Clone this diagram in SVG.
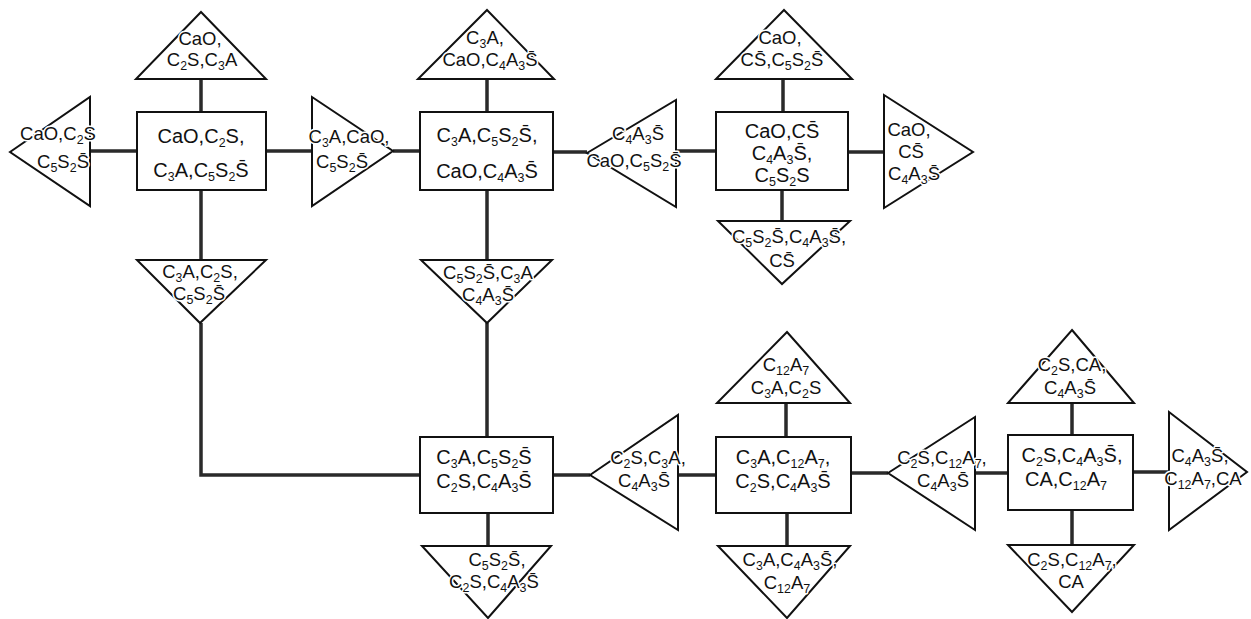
<svg xmlns="http://www.w3.org/2000/svg" width="1251" height="619" viewBox="0 0 1251 619">
<style>
.n{fill:#fff;stroke:#111;stroke-width:2;stroke-linejoin:miter}
.c{fill:none;stroke:#2a2a2a;stroke-width:3.5}
.t{font-family:"Liberation Sans","DejaVu Sans",sans-serif;font-size:20px;text-anchor:middle;fill:#111;stroke:#fff;stroke-width:3;paint-order:stroke;stroke-linejoin:round}
.tr{font-size:18.5px}
.s{font-size:12.5px;baseline-shift:-4px}
</style>
<rect width="1251" height="619" fill="#fff"/>
<g id="connectors">
<path class="c" d="M90 151H137M266 151H312M393 151H420M553 152H587M676 151H716M848 152H884M201 79V112M487 79V112M783 79V112M201 190V260M201 323V475H420M487 190V260M487 323V437M782 190V221M488 513V546M553 475H590M678 475H716M786 403V437M787 513V546M851 473H888M975 473H1008M1072 403V435M1072 510V545M1133 472H1169"/>
</g>
<g id="box1"><rect class="n" x="137" y="112" width="129" height="78"/>
<text class="t" x="201" y="143">CaO,C<tspan class="s">2</tspan>S,</text>
<text class="t" x="201" y="177">C<tspan class="s">3</tspan>A,C<tspan class="s">5</tspan>S<tspan class="s">2</tspan>S&#772;</text></g>
<g id="tri-top1"><polygon class="n" points="201,12 266,79 136,79"/>
<text class="t tr" x="200" y="45">CaO,</text>
<text class="t tr" x="202" y="66">C<tspan class="s">2</tspan>S,C<tspan class="s">3</tspan>A</text></g>
<g id="tri-left1"><polygon class="n" points="10,152 90,97 90,206"/>
<text class="t tr" x="58" y="140">CaO,C<tspan class="s">2</tspan>S</text>
<text class="t tr" x="63" y="168">C<tspan class="s">5</tspan>S<tspan class="s">2</tspan>S&#772;</text></g>
<g id="tri-right1"><polygon class="n" points="312,97 393,151 312,206"/>
<text class="t tr" x="349" y="143">C<tspan class="s">3</tspan>A,CaO,</text>
<text class="t tr" x="342" y="168">C<tspan class="s">5</tspan>S<tspan class="s">2</tspan>S&#772;</text></g>
<g id="tri-down1"><polygon class="n" points="137,260 266,260 200,323"/>
<text class="t tr" x="200" y="278">C<tspan class="s">3</tspan>A,C<tspan class="s">2</tspan>S,</text>
<text class="t tr" x="199" y="300">C<tspan class="s">5</tspan>S<tspan class="s">2</tspan>S&#772;</text></g>
<g id="box2"><rect class="n" x="420" y="112" width="133" height="78"/>
<text class="t" x="487" y="142">C<tspan class="s">3</tspan>A,C<tspan class="s">5</tspan>S<tspan class="s">2</tspan>S&#772;,</text>
<text class="t" x="487" y="178">CaO,C<tspan class="s">4</tspan>A<tspan class="s">3</tspan>S&#772;</text></g>
<g id="tri-top2"><polygon class="n" points="487,10 554,79 418,79"/>
<text class="t tr" x="485" y="44">C<tspan class="s">3</tspan>A,</text>
<text class="t tr" x="490" y="66">CaO,C<tspan class="s">4</tspan>A<tspan class="s">3</tspan>S&#772;</text></g>
<g id="tri-down2"><polygon class="n" points="421,260 552,260 487,323"/>
<text class="t tr" x="488" y="279">C<tspan class="s">5</tspan>S<tspan class="s">2</tspan>S&#772;,C<tspan class="s">3</tspan>A</text>
<text class="t tr" x="488" y="301">C<tspan class="s">4</tspan>A<tspan class="s">3</tspan>S&#772;</text></g>
<g id="tri-left2"><polygon class="n" points="587,153 676,100 676,207"/>
<text class="t tr" x="638" y="140">C<tspan class="s">4</tspan>A<tspan class="s">3</tspan>S&#772;</text>
<text class="t tr" x="634" y="167">CaO,C<tspan class="s">5</tspan>S<tspan class="s">2</tspan>S&#772;</text></g>
<g id="box3"><rect class="n" x="716" y="112" width="132" height="78"/>
<text class="t" x="782" y="138">CaO,CS&#772;</text>
<text class="t" x="782" y="160">C<tspan class="s">4</tspan>A<tspan class="s">3</tspan>S&#772;,</text>
<text class="t" x="782" y="182">C<tspan class="s">5</tspan>S<tspan class="s">2</tspan>S</text></g>
<g id="tri-top3"><polygon class="n" points="784,10 852,79 716,79"/>
<text class="t tr" x="780" y="44">CaO,</text>
<text class="t tr" x="782" y="66">CS&#772;,C<tspan class="s">5</tspan>S<tspan class="s">2</tspan>S&#772;</text></g>
<g id="tri-right3"><polygon class="n" points="884,95 973,152 884,208"/>
<text class="t tr" x="909" y="136">CaO,</text>
<text class="t tr" x="911" y="158">CS&#772;</text>
<text class="t tr" x="914" y="180">C<tspan class="s">4</tspan>A<tspan class="s">3</tspan>S&#772;</text></g>
<g id="tri-down3"><polygon class="n" points="718,221 850,221 782,284"/>
<text class="t tr" x="789" y="243">C<tspan class="s">5</tspan>S<tspan class="s">2</tspan>S&#772;,C<tspan class="s">4</tspan>A<tspan class="s">3</tspan>S&#772;,</text>
<text class="t tr" x="782" y="267">CS&#772;</text></g>
<g id="box4"><rect class="n" x="420" y="437" width="133" height="76"/>
<text class="t" x="484" y="464">C<tspan class="s">3</tspan>A,C<tspan class="s">5</tspan>S<tspan class="s">2</tspan>S&#772;</text>
<text class="t" x="484" y="488">C<tspan class="s">2</tspan>S,C<tspan class="s">4</tspan>A<tspan class="s">3</tspan>S&#772;</text></g>
<g id="tri-down4"><polygon class="n" points="422,546 551,546 488,618"/>
<text class="t tr" x="497" y="566">C<tspan class="s">5</tspan>S<tspan class="s">2</tspan>S&#772;,</text>
<text class="t tr" x="494" y="588">C<tspan class="s">2</tspan>S,C<tspan class="s">4</tspan>A<tspan class="s">3</tspan>S&#772;</text></g>
<g id="tri-left4"><polygon class="n" points="590,475 678,415 678,530"/>
<text class="t tr" x="648" y="464">C<tspan class="s">2</tspan>S,C<tspan class="s">3</tspan>A,</text>
<text class="t tr" x="644" y="487">C<tspan class="s">4</tspan>A<tspan class="s">3</tspan>S&#772;</text></g>
<g id="box5"><rect class="n" x="716" y="437" width="135" height="76"/>
<text class="t" x="783" y="464">C<tspan class="s">3</tspan>A,C<tspan class="s">12</tspan>A<tspan class="s">7</tspan>,</text>
<text class="t" x="783" y="488">C<tspan class="s">2</tspan>S,C<tspan class="s">4</tspan>A<tspan class="s">3</tspan>S&#772;</text></g>
<g id="tri-top5"><polygon class="n" points="787,332 850,403 717,403"/>
<text class="t tr" x="786" y="371">C<tspan class="s">12</tspan>A<tspan class="s">7</tspan></text>
<text class="t tr" x="786" y="394">C<tspan class="s">3</tspan>A,C<tspan class="s">2</tspan>S</text></g>
<g id="tri-down5"><polygon class="n" points="718,546 850,546 787,618"/>
<text class="t tr" x="790" y="566">C<tspan class="s">3</tspan>A,C<tspan class="s">4</tspan>A<tspan class="s">3</tspan>S&#772;,</text>
<text class="t tr" x="787" y="589">C<tspan class="s">12</tspan>A<tspan class="s">7</tspan></text></g>
<g id="tri-left5"><polygon class="n" points="888,473 975,417 975,530"/>
<text class="t tr" x="942" y="464">C<tspan class="s">2</tspan>S,C<tspan class="s">12</tspan>A<tspan class="s">7</tspan>,</text>
<text class="t tr" x="943" y="487">C<tspan class="s">4</tspan>A<tspan class="s">3</tspan>S&#772;</text></g>
<g id="box6"><rect class="n" x="1008" y="435" width="125" height="75"/>
<text class="t" x="1072" y="462">C<tspan class="s">2</tspan>S,C<tspan class="s">4</tspan>A<tspan class="s">3</tspan>S&#772;,</text>
<text class="t" x="1066" y="486">CA,C<tspan class="s">12</tspan>A<tspan class="s">7</tspan></text></g>
<g id="tri-top6"><polygon class="n" points="1072,330 1134,403 1008,403"/>
<text class="t tr" x="1072" y="371">C<tspan class="s">2</tspan>S,CA,</text>
<text class="t tr" x="1070" y="394">C<tspan class="s">4</tspan>A<tspan class="s">3</tspan>S&#772;</text></g>
<g id="tri-down6"><polygon class="n" points="1008,545 1134,545 1072,612"/>
<text class="t tr" x="1072" y="566">C<tspan class="s">2</tspan>S,C<tspan class="s">12</tspan>A<tspan class="s">7</tspan>,</text>
<text class="t tr" x="1071" y="588">CA</text></g>
<g id="tri-right6"><polygon class="n" points="1169,412 1247,472 1169,530"/>
<text class="t tr" x="1200" y="462">C<tspan class="s">4</tspan>A<tspan class="s">3</tspan>S&#772;,</text>
<text class="t tr" x="1203" y="485">C<tspan class="s">12</tspan>A<tspan class="s">7</tspan>,CA</text></g>
</svg>
